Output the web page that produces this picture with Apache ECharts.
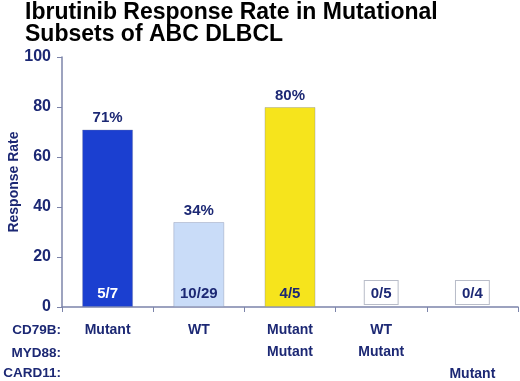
<!DOCTYPE html>
<html>
<head>
<meta charset="utf-8">
<script src="https://cdn.jsdelivr.net/npm/echarts@6/dist/echarts.min.js"></script>
<style>html,body{margin:0;padding:0;background:#fff}#chart{width:520px;height:381px}</style>
</head>
<body>
<div id="chart"></div>
<script>
// 数据
const groups = ['g1', 'g2', 'g3', 'g4', 'g5'];
const cd79b = ['Mutant', 'WT', 'Mutant', 'WT', ''];
const myd88 = ['', '', 'Mutant', 'Mutant', ''];
const card11 = ['', '', '', '', 'Mutant'];
const rates = [71, 34, 80, 0, 0];
const fractions = ['5/7', '10/29', '4/5', '0/5', '0/4'];
const barColors = ['#1b3fd0', '#c9dcf8', '#f6e41c', '#ffffff', '#ffffff'];
const rowNames = ['CD79B:', 'MYD88:', 'CARD11:'];
const yName = 'Response Rate';

const navy = '#1c2874';
const rowTops = [323, 346, 366];
let chart = echarts.init(document.getElementById('chart'));

let graphics = rowNames.map((n, i) => ({
  type: 'text',
  right: 459,
  top: rowTops[i],
  style: {
    text: n,
    fill: navy,
    font: 'bold 13.5px "Liberation Sans"',
    textAlign: 'right'
  }
}));
// 纵轴标题
graphics.push({
  type: 'text',
  x: 14,
  y: 182,
  rotation: Math.PI / 2,
  style: {
    text: yName,
    fill: navy,
    font: 'bold 14px "Liberation Sans"',
    textAlign: 'center',
    textVerticalAlign: 'middle'
  }
});

chart.setOption({
  backgroundColor: '#fff',
  animation: false,
  title: {
    text: 'Ibrutinib Response Rate in Mutational\nSubsets of ABC DLBCL',
    left: 20,
    top: -3,
    textStyle: {
      color: '#000',
      fontFamily: 'Liberation Sans',
      fontWeight: 'bold',
      fontSize: 23,
      lineHeight: 22
    }
  },
  grid: { left: 62, right: 2, top: 57, bottom: 74, outerBoundsMode: 'none' },
  graphic: graphics,
  xAxis: {
    type: 'category',
    data: groups,
    axisLine: { lineStyle: { color: '#7c84aa', width: 1.5 } },
    axisTick: { show: true, length: 5, lineStyle: { color: '#7c84aa' } },
    axisLabel: {
      interval: 0,
      margin: 12,
      formatter: (v, i) => [cd79b[i] || ' ', myd88[i] || ' ', card11[i] || ' '].join('\n'),
      color: navy,
      fontFamily: 'Liberation Sans',
      fontWeight: 'bold',
      fontSize: 14,
      lineHeight: 22,
      verticalAlign: 'top'
    }
  },
  yAxis: {
    type: 'value',
    min: 0,
    max: 100,
    interval: 20,
    axisLine: { show: true, lineStyle: { color: '#7c84aa', width: 1.5 } },
    axisTick: { show: true, length: 5, lineStyle: { color: '#7c84aa' } },
    splitLine: { show: false },
    axisLabel: {
      color: navy,
      fontFamily: 'Liberation Sans',
      fontWeight: 'bold',
      fontSize: 16,
      margin: 11
    }
  },
  series: [
    {
      type: 'bar',
      barWidth: 51,
      data: rates.map((v, i) => ({
        value: v,
        itemStyle: { color: barColors[i], borderWidth: v > 0 ? 1 : 0 },
        label: { show: v > 0 }
      })),
      itemStyle: { borderColor: 'rgba(120,130,160,0.35)' },
      label: {
        position: 'top',
        distance: 4,
        formatter: '{c}%',
        color: navy,
        fontFamily: 'Liberation Sans',
        fontWeight: 'bold',
        fontSize: 15
      }
    },
    {
      type: 'bar',
      barWidth: 51,
      barGap: '-100%',
      silent: true,
      data: rates.map((v, i) => ({
        value: v,
        label: v > 0 ? {
          color: i === 0 ? '#fff' : navy
        } : {
          color: navy,
          distance: 3,
          backgroundColor: '#fff',
          borderColor: '#b8bcc8',
          borderWidth: 1,
          padding: [5, 6, 3, 6]
        }
      })),
      itemStyle: { color: 'rgba(0,0,0,0)' },
      label: {
        show: true,
        position: 'insideBottom',
        distance: 6,
        formatter: (p) => fractions[p.dataIndex],
        fontFamily: 'Liberation Sans',
        fontWeight: 'bold',
        fontSize: 15
      }
    }
  ]
});
</script>
</body>
</html>
